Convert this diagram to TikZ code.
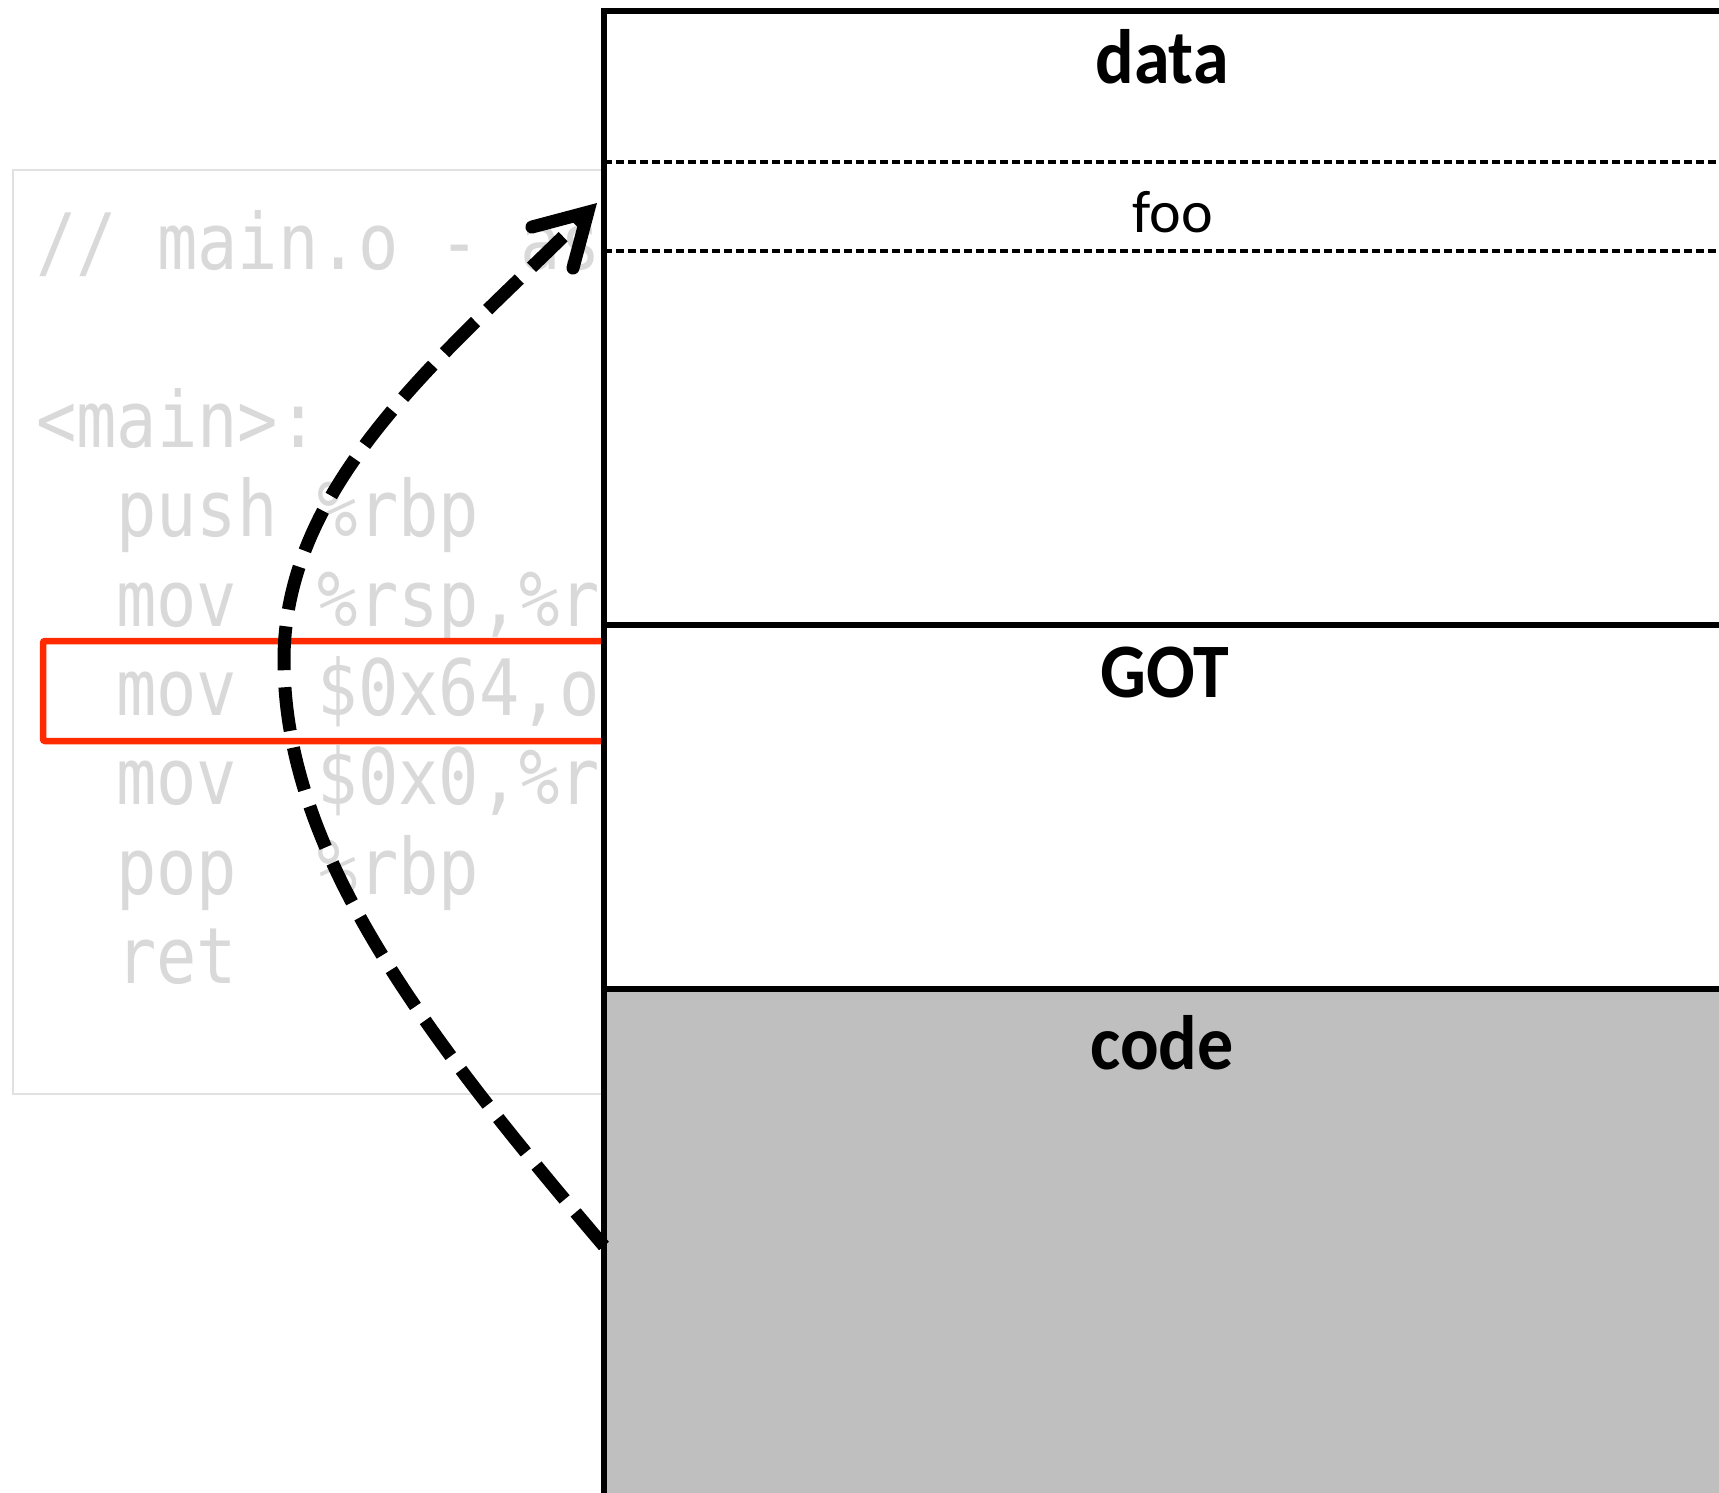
\documentclass[tikz,border=0pt]{standalone}
\usepackage{fontspec}
\usepackage{graphicx}
\setmainfont{Carlito}
\setmonofont{DejaVu Sans Mono}
\usetikzlibrary{arrows.meta}

\definecolor{codegray}{RGB}{217,217,217}
\definecolor{framegray}{RGB}{225,225,225}
\definecolor{hilite}{RGB}{255,42,0}
\definecolor{codefill}{RGB}{191,191,191}

% vertical stretch applied to the listing and to the segment titles
\newcommand{\tallmono}[1]{\scalebox{1}[1.16]{#1}}
\newcommand{\tallsans}[1]{\scalebox{1}[1.07]{#1}}

\begin{document}
\begin{tikzpicture}[x=1pt,y=-1pt,
  codeline/.style={anchor=base west, inner sep=0pt, text=codegray,
    font=\ttfamily\fontsize{67}{67}\selectfont},
  seglabel/.style={anchor=base, inner sep=0pt,
    font=\bfseries\fontsize{72}{72}\selectfont},
  varlabel/.style={anchor=base, inner sep=0pt,
    font=\fontsize{60}{60}\selectfont},
  memline/.style={line width=6pt},
  slotline/.style={line width=3.5pt, dash pattern=on 8pt off 4pt},
  jump/.style={line width=13pt, dash pattern=on 44pt off 17pt,
    -{Straight Barb[length=50pt, width=58pt, line cap=round, line join=miter]}},
]
\clip (0,0) rectangle (1719,1492);
\fill[white] (0,0) rectangle (1719,1492);

% disassembly listing
\draw[framegray, line width=2.5pt] (13,170) rectangle (660,1094);
\node[codeline] (l0) at (36,269) {\tallmono{//~main.o~-~as}};
\node[codeline] (l1) at (36,447) {\tallmono{<main>:}};
\node[codeline] (l2) at (116,536) {\tallmono{push~\%rbp}};
\node[codeline] (l3) at (116,626) {\tallmono{mov~~\%rsp,\%r}};
\node[codeline] (l4) at (116,715) {\tallmono{mov~~\$0x64,o}};
\node[codeline] (l5) at (116,804) {\tallmono{mov~~\$0x0,\%r}};
\node[codeline] (l6) at (116,894) {\tallmono{pop~~\%rbp}};
\node[codeline] (l7) at (116,983) {\tallmono{ret}};

% highlighted instruction
\draw[hilite, line width=6.5pt, rounded corners=2pt] (43,641) rectangle (660,741);

% memory image
\fill[white] (604,11) rectangle (1780,1560);
\fill[codefill] (604,989) rectangle (1780,1560);
\draw[slotline] (604,162) -- (1780,162);
\draw[slotline] (604,251) -- (1780,251);
\draw[memline] (604,625) -- (1780,625);
\draw[memline] (604,989) -- (1780,989);
\draw[memline] (604,11) rectangle (1780,1560);

\node[seglabel] (data) at (1162,83) {\tallsans{data}};
\node[varlabel] (foo) at (1173,232) {foo};
\node[seglabel] (got) at (1165,697) {\tallsans{GOT}};
\node[seglabel] (code) at (1162,1069) {\tallsans{code}};

% reference from the instruction to the variable
\coordinate (src) at (604,1246);
\coordinate (dst) at (597,203);
\draw[jump] (src) .. controls (420,1030) and (284,850) .. (284,660)
  .. controls (284,480) and (450,350) .. (dst);
\end{tikzpicture}
\end{document}
